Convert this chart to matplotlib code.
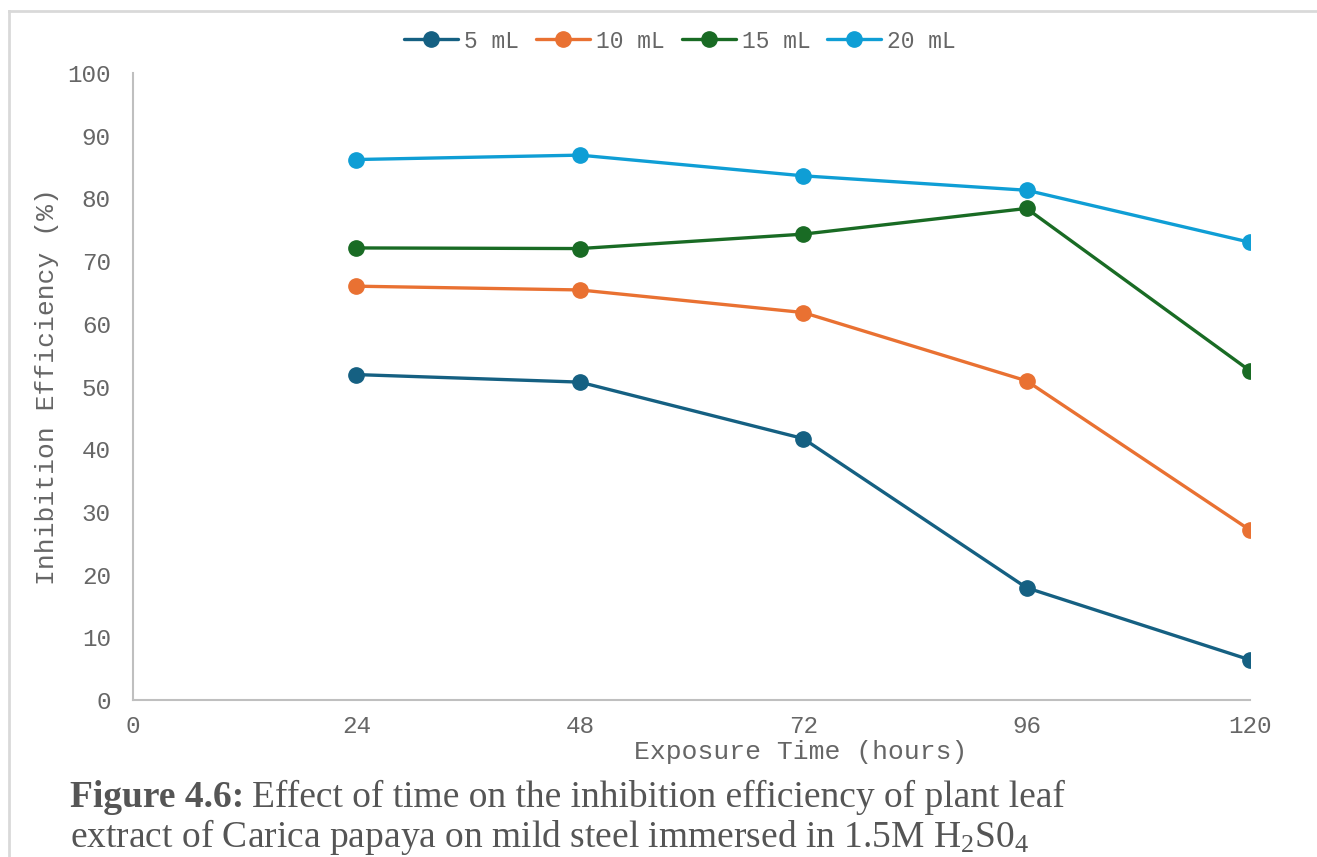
import matplotlib.pyplot as plt
from matplotlib.lines import Line2D

# exposure time (hours) and inhibition efficiency (%) per extract volume
hours = [24, 48, 72, 96, 120]
ie_5ml = [51.9, 50.7, 41.7, 17.9, 6.4]
ie_10ml = [66.0, 65.4, 61.8, 50.9, 27.1]
ie_15ml = [72.1, 72.0, 74.3, 78.4, 52.5]
ie_20ml = [86.2, 86.9, 83.6, 81.3, 73.0]

series = [('5 mL', ie_5ml, '#156082'),
          ('10 mL', ie_10ml, '#E97132'),
          ('15 mL', ie_15ml, '#196B24'),
          ('20 mL', ie_20ml, '#0F9ED5')]

x_ticks = [0, 24, 48, 72, 96, 120]
y_ticks = list(range(0, 101, 10))

mono = 'Liberation Mono'
grey = '#666666'

fig = plt.figure(figsize=(13.17, 8.57), dpi=100)
ax = fig.add_axes([133/1317, 1 - 700/857, 1117/1317, 627/857])

for name, vals, col in series:
    ax.plot(hours, vals, color=col, lw=2.4, marker='o', ms=11, label=name,
            solid_capstyle='round', zorder=3)

ax.set_xlim(0, 120)
ax.set_ylim(0, 100)
ax.set_xticks(x_ticks)
ax.set_yticks(y_ticks)
ax.tick_params(length=0, labelsize=17.5, labelcolor=grey)
ax.tick_params(axis='x', pad=11)
ax.tick_params(axis='y', pad=16)
for lab in ax.get_xticklabels() + ax.get_yticklabels():
    lab.set_family(mono)

for side in ['top', 'right']:
    ax.spines[side].set_visible(False)
for side in ['left', 'bottom']:
    ax.spines[side].set_color('#BFBFBF')
    ax.spines[side].set_linewidth(1.5)

ax.set_xlabel('Exposure Time (hours)', family=mono, fontsize=19, color=grey)
ax.xaxis.set_label_coords(668/1117, -52/627)
ax.xaxis.label.set_va('center')
ax.set_ylabel('Inhibition Efficiency (%)', family=mono, fontsize=19, color=grey)
ax.yaxis.set_label_coords(-86/1117, 0.5)
ax.yaxis.label.set_va('center')

leg = fig.legend(loc='center', bbox_to_anchor=(680/1317, 1 - 41/857), ncol=4,
                 frameon=False, handlelength=2.35, handletextpad=0.26,
                 columnspacing=0.75, prop={'family': mono, 'size': 16.5})
for t in leg.get_texts():
    t.set_color(grey)

# outer chart border (top and left edges)
fig.add_artist(Line2D([9/1317, 1], [1 - 11/857, 1 - 11/857], color='#D9D9D9', lw=2))
fig.add_artist(Line2D([9/1317, 9/1317], [0, 1 - 11/857], color='#D9D9D9', lw=2))

# caption below the chart
plt.rcParams['mathtext.fontset'] = 'custom'
plt.rcParams['mathtext.rm'] = 'Liberation Serif'
cap_col = '#555555'
fig.canvas.draw()
bold = fig.text(70/1317, 1 - 807/857, 'Figure 4.6:', family='Liberation Serif',
                weight='bold', fontsize=27, color=cap_col, va='baseline')
r = fig.canvas.get_renderer()
bb = bold.get_window_extent(renderer=r)
fig.text((bb.x1 + 8)/1317, 1 - 807/857,
         'Effect of time on the inhibition efficiency of plant leaf',
         family='Liberation Serif', fontsize=27, color=cap_col, va='baseline')
fig.text(70/1317, 1 - 847/857,
         r'extract of Carica papaya on mild steel immersed in 1.5M $\mathrm{H_2S0_4}$',
         family='Liberation Serif', fontsize=27, color=cap_col, va='baseline')

fig.savefig('out.png', dpi=100)
